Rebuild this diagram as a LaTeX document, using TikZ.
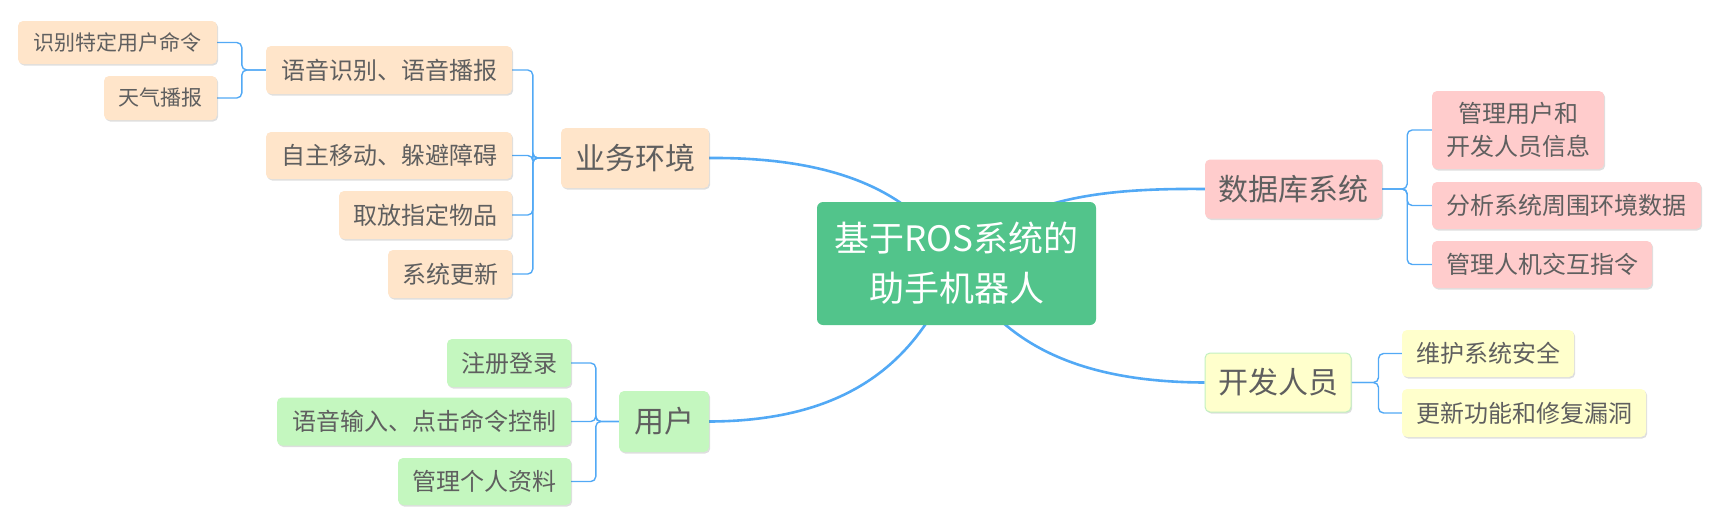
\documentclass[tikz,border=0pt]{standalone}
\usepackage{fontspec}
\newfontfamily\cjk{Noto Sans CJK SC}
\usetikzlibrary{shadows,backgrounds}
\definecolor{peach}{HTML}{FFE5CA}
\definecolor{pinkc}{HTML}{FFCCCC}
\definecolor{greenc}{HTML}{C4F7BF}
\definecolor{yellowc}{HTML}{FFFFCC}
\definecolor{rootc}{HTML}{52C48B}
\definecolor{txt}{HTML}{5F5F5F}
\definecolor{linec}{HTML}{52A9F5}
\definecolor{kborder}{HTML}{C2F0C0}
\tikzset{
  box/.style={rounded corners=5pt, text=txt, inner sep=0pt, align=center,
    drop shadow={shadow xshift=1.2pt, shadow yshift=-1.5pt, fill=black, opacity=0.13}},
  lvlthree/.style={box, font=\cjk\fontsize{21}{28}\selectfont},
  lvltwo/.style={box, font=\cjk\fontsize{24}{33}\selectfont},
  lvlone/.style={box, font=\cjk\fontsize{30}{36}\selectfont},
  sz/.style 2 args={minimum width=#1pt, minimum height=#2pt},
  br/.style={draw=linec, line width=1.4pt, rounded corners=5pt},
  mainline/.style={draw=linec, line width=2.6pt},
}
\begin{document}
\begin{tikzpicture}[x=1pt,y=-1pt]
\useasboundingbox (0,0) rectangle (1717,520);
% root
\node[rounded corners=6pt, fill=rootc, text=white, inner sep=0pt, align=center,
  font=\cjk\fontsize{35}{50}\selectfont, sz={279}{123}] (root) at (956.5,263.5) {基于ROS系统的\\助手机器人};
% business
\node[lvlone, fill=peach, sz={148}{60}] (A) at (635,158) {业务环境};
\node[lvltwo, fill=peach, sz={246}{48}] (b1) at (389,70) {语音识别、语音播报};
\node[lvltwo, fill=peach, sz={246}{47}] (b2) at (389,155.5) {自主移动、躲避障碍};
\node[lvltwo, fill=peach, sz={173}{48}] (b3) at (425.5,215) {取放指定物品};
\node[lvltwo, fill=peach, sz={124}{48}] (b4) at (450,274) {系统更新};
\node[lvlthree, fill=peach, sz={199}{43}] (c1) at (117.5,42.5) {识别特定用户命令};
\node[lvlthree, fill=peach, sz={113}{44}] (c2) at (160.5,98) {天气播报};
% user
\node[lvlone, fill=greenc, sz={90}{61}] (U) at (664,421.5) {用户};
\node[lvltwo, fill=greenc, sz={124}{48}] (u1) at (509,363) {注册登录};
\node[lvltwo, fill=greenc, sz={294}{48}] (u2) at (424,421.5) {语音输入、点击命令控制};
\node[lvltwo, fill=greenc, sz={173}{47}] (u3) at (484.5,481.5) {管理个人资料};
% database
\node[lvlone, fill=pinkc, sz={177}{59}] (D) at (1293.5,189) {数据库系统};
\node[lvltwo, fill=pinkc, sz={172}{78}] (d1) at (1518,130) {管理用户和\\开发人员信息};
\node[lvltwo, fill=pinkc, sz={269}{47}] (d2) at (1566.5,205.5) {分析系统周围环境数据};
\node[lvltwo, fill=pinkc, sz={220}{47}] (d3) at (1542,264.5) {管理人机交互指令};
% developers
\node[lvlone, fill=yellowc, draw=kborder, line width=1pt, sz={146}{59}] (K) at (1278,382.5) {开发人员};
\node[lvltwo, fill=yellowc, sz={172}{47}] (k1) at (1488,353.5) {维护系统安全};
\node[lvltwo, fill=yellowc, sz={244}{48}] (k2) at (1524,413) {更新功能和修复漏洞};
\begin{scope}[on background layer]
  \draw[mainline] (A.east) .. controls (850,157) and (920,200) .. (root.center);
  \draw[mainline] (D.west) .. controls (1100,188) and (1010,198) .. (root.center);
  \draw[mainline] (U.east) .. controls (850,421) and (920,360) .. (root.center);
  \draw[mainline] (K.west) .. controls (1080,382) and (1000,345) .. (root.center);
  % brackets
  \foreach \c in {c1,c2}{\draw[br] (\c.east) -| ([xshift=-24pt]b1.west) -- (b1.west);}
  \foreach \c in {b1,b2,b3,b4}{\draw[br] (\c.east) -| ([xshift=-28pt]A.west) -- (A.west);}
  \foreach \c in {u1,u2,u3}{\draw[br] (\c.east) -| ([xshift=-23pt]U.west) -- (U.west);}
  \foreach \c in {d1,d2,d3}{\draw[br] (\c.west) -| ([xshift=25pt]D.east) -- (D.east);}
  \foreach \c in {k1,k2}{\draw[br] (\c.west) -| ([xshift=27pt]K.east) -- (K.east);}
\end{scope}
\end{tikzpicture}
\end{document}
